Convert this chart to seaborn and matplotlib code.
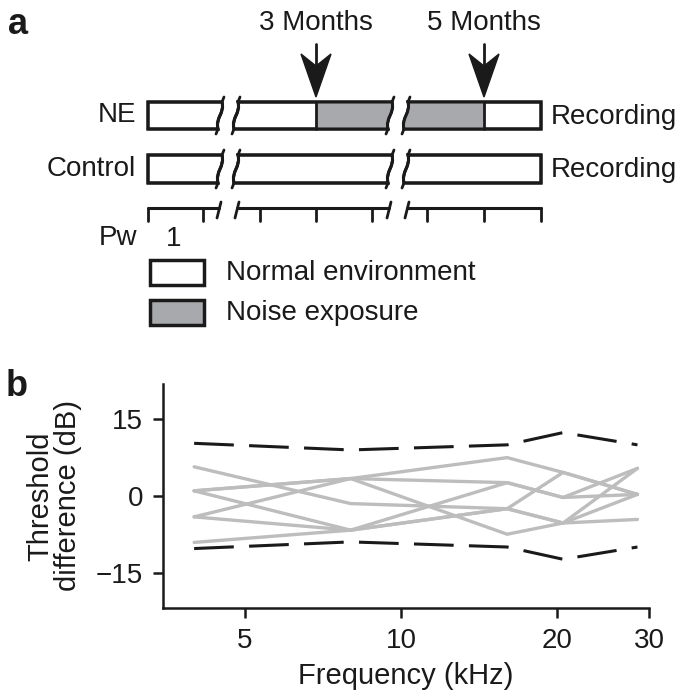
import numpy as np
import pandas as pd
import matplotlib
matplotlib.use('Agg')
import matplotlib.pyplot as plt
from matplotlib.path import Path
from matplotlib.patches import PathPatch, Rectangle, Polygon
from matplotlib.ticker import FixedLocator, FixedFormatter, NullLocator
import seaborn as sns

# ---- data for panel b ----
freqs = [4, 8, 16, 20.5, 28.5]
animals = ['m1', 'm2', 'm3', 'm4', 'm5', 'm6', 'm7']
thr_m1 = [5.7, -1.5, -2.5, 4.6, 0.3]
thr_m2 = [1.0, 3.4, 7.5, 4.6, 0.3]
thr_m3 = [1.0, -6.7, 2.6, -0.3, 0.3]
thr_m4 = [-4.1, 3.4, 2.6, -0.3, 5.4]
thr_m5 = [-4.1, -6.7, -2.5, -5.3, -4.6]
thr_m6 = [-9.1, -6.7, -2.5, -5.3, 5.4]
thr_m7 = [1.0, 3.4, -7.5, -5.3, 0.3]
upper_bound = [10.3, 9.0, 10.0, 12.4, 10.0]
lower_bound = [-10.3, -9.0, -10.0, -12.4, -10.0]
x_ticks = [5, 10, 20, 30]
y_ticks = [-15, 0, 15]

# ---- labels for panel a ----
groups = ['NE', 'Control']
arrow_labels = ['3 Months', '5 Months']
legend_labels = ['Normal environment', 'Noise exposure']
end_label = 'Recording'

sns.set_theme(style='ticks')
plt.rcParams['font.family'] = ['Liberation Sans', 'DejaVu Sans']

fig = plt.figure(figsize=(6.85, 6.98), dpi=100)
fs = 20

# ---------------- panel a (schematic, pixel coordinates) ----------------
ax_a = fig.add_axes([0, 0, 1, 1])
ax_a.set_xlim(0, 685)
ax_a.set_ylim(698, 0)
ax_a.axis('off')

gray = '#a7a9ac'
ink = '#1a1a1a'
segments = [(148, 220), (236, 390), (406, 541)]
row_y = {'NE': (102, 129), 'Control': (155, 183)}
exposure = [(316, 400), (400, 484)]
arrow_x = [316, 484]
ruler_ticks = [148, 203.5, 260, 316, 372, 427.5, 484, 541]


def seg_path(xl, xr, y0, y1, curve_l, curve_r):
    h = y1 - y0
    verts, codes = [], []
    if curve_l:
        verts += [(xl - 2, y1), (xl - 5, y1 - 0.4 * h), (xl + 5, y0 + 0.4 * h), (xl + 2, y0)]
        codes += [Path.MOVETO, Path.CURVE4, Path.CURVE4, Path.CURVE4]
    else:
        verts += [(xl, y1), (xl, y0)]
        codes += [Path.MOVETO, Path.LINETO]
    if curve_r:
        verts += [(xr + 2, y0), (xr + 5, y0 + 0.4 * h), (xr - 5, y1 - 0.4 * h), (xr - 2, y1)]
        codes += [Path.LINETO, Path.CURVE4, Path.CURVE4, Path.CURVE4]
    else:
        verts += [(xr, y0), (xr, y1)]
        codes += [Path.LINETO, Path.LINETO]
    verts.append(verts[0])
    codes.append(Path.CLOSEPOLY)
    return Path(verts, codes)


for g in groups:
    y0, y1 = row_y[g]
    for i, (xl, xr) in enumerate(segments):
        cl, cr = i > 0, i < len(segments) - 1
        p = PathPatch(seg_path(xl, xr, y0, y1, cl, cr), facecolor='white',
                      edgecolor=ink, lw=2.2, zorder=2)
        ax_a.add_patch(p)
        if g == 'NE':
            for ex0, ex1 in exposure:
                if ex0 < xr + 6 and ex1 > xl - 6:
                    r = Rectangle((ex0, y0 - 2), ex1 - ex0, y1 - y0 + 4,
                                  facecolor=gray, edgecolor='none', zorder=2.5)
                    ax_a.add_patch(r)
                    r.set_clip_path(p)
        outline = PathPatch(seg_path(xl, xr, y0, y1, cl, cr), facecolor='none',
                            edgecolor=ink, lw=2.2, zorder=3)
        ax_a.add_patch(outline)
        if cr:
            ax_a.plot([xr + 2, xr + 4], [y0, y0 - 5], color=ink, lw=2, zorder=3)
            ax_a.plot([xr - 2, xr - 4], [y1, y1 + 5], color=ink, lw=2, zorder=3)
        if cl:
            ax_a.plot([xl + 2, xl + 4], [y0, y0 - 5], color=ink, lw=2, zorder=3)
            ax_a.plot([xl - 2, xl - 4], [y1, y1 + 5], color=ink, lw=2, zorder=3)
    if g == 'NE':
        for xb in arrow_x:
            ax_a.plot([xb, xb], [y0, y1], color=ink, lw=2, zorder=3)
    ax_a.text(136, (y0 + y1) / 2, g, ha='right', va='center', fontsize=fs, color=ink)
    ax_a.text(551, (y0 + y1) / 2 + 1, end_label, ha='left', va='center', fontsize=fs, color=ink)

# arrows and month labels
for xb, lab in zip(arrow_x, arrow_labels):
    ax_a.plot([xb, xb], [44, 66], color=ink, lw=2, zorder=3)
    ax_a.add_patch(Polygon([(xb, 97), (xb - 15, 54), (xb, 66), (xb + 15, 54)],
                           closed=True, facecolor=ink, edgecolor=ink, lw=1, zorder=3))
    ax_a.text(xb, 23, lab, ha='center', va='center', fontsize=fs, color=ink)

# ruler
ruler_y, tick_y = 208, 221
for i, (xl, xr) in enumerate(segments):
    ax_a.plot([xl if i == 0 else xl + 1, xr if i == len(segments) - 1 else xr - 1],
              [ruler_y, ruler_y], color=ink, lw=2.2)
    if i < len(segments) - 1:
        ax_a.plot([xr + 1, xr - 3], [ruler_y - 6, ruler_y + 10], color=ink, lw=2)
    if i > 0:
        ax_a.plot([xl + 3, xl - 1], [ruler_y - 6, ruler_y + 10], color=ink, lw=2)
for xt in ruler_ticks:
    ax_a.plot([xt, xt], [ruler_y, tick_y], color=ink, lw=2)
ax_a.text(118, 238, 'Pw', ha='center', va='center', fontsize=fs, color=ink)
ax_a.text(174, 239, '1', ha='center', va='center', fontsize=fs, color=ink)

# legend
for yb, fc, lab in zip([260, 300], ['white', gray], legend_labels):
    ax_a.add_patch(Rectangle((150, yb), 54, 25, facecolor=fc, edgecolor=ink, lw=2.5))
    ax_a.text(226, yb + 12.5, lab, ha='left', va='center', fontsize=fs, color=ink)

ax_a.text(8, 24, 'a', ha='left', va='center', fontsize=26, fontweight='bold', color=ink)
ax_a.text(6, 386, 'b', ha='left', va='center', fontsize=26, fontweight='bold', color=ink)

# ---------------- panel b ----------------
ax_b = fig.add_axes([0.2375, 0.1285, 0.710, 0.322])
series = [thr_m1, thr_m2, thr_m3, thr_m4, thr_m5, thr_m6, thr_m7]
df = pd.DataFrame({
    'freq': freqs * len(animals),
    'diff': np.concatenate(series),
    'animal': np.repeat(animals, len(freqs)),
})
sns.lineplot(data=df, x='freq', y='diff', units='animal', estimator=None,
             color='#bdbdbd', lw=2.4, legend=False, ax=ax_b)
for bound in [upper_bound, lower_bound]:
    sns.lineplot(x=freqs, y=bound, color=ink, lw=2.2, ls=(0, (13, 5)), ax=ax_b)

ax_b.set_xscale('log')
ax_b.set_xlim(3.48, 30)
ax_b.set_ylim(-22, 22)
ax_b.xaxis.set_major_locator(FixedLocator(x_ticks))
ax_b.xaxis.set_major_formatter(FixedFormatter([str(t) for t in x_ticks]))
ax_b.xaxis.set_minor_locator(NullLocator())
ax_b.set_yticks(y_ticks)
ax_b.set_yticklabels(['\u221215', '0', '15'])
for s in ['top', 'right']:
    ax_b.spines[s].set_visible(False)
for s in ['left', 'bottom']:
    ax_b.spines[s].set_linewidth(1.8)
    ax_b.spines[s].set_color(ink)
ax_b.tick_params(direction='out', length=7, width=1.8, labelsize=fs, pad=7, colors=ink)
ax_b.set_xlabel('Frequency (kHz)', fontsize=21, labelpad=6, color=ink)
ax_b.set_ylabel('Threshold\ndifference (dB)', fontsize=21, labelpad=10,
                linespacing=1.0, color=ink)

fig.savefig('out.png', dpi=100)
